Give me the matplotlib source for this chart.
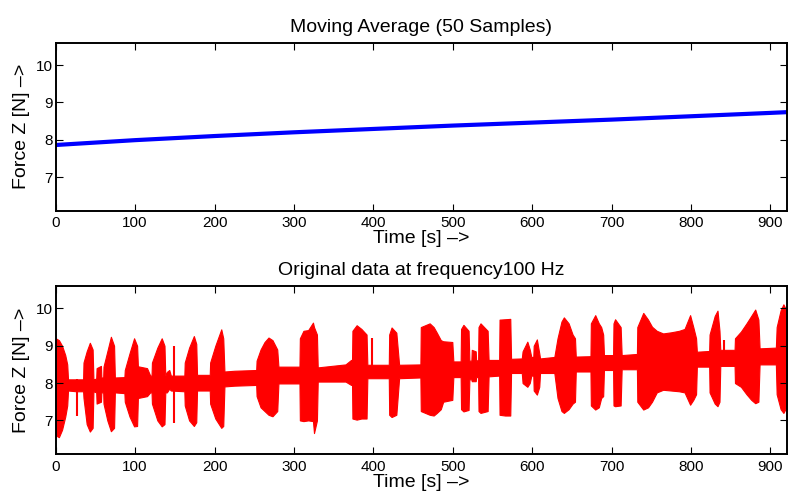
import numpy as np
from matplotlib import pyplot as plt

plt.rcParams['font.family'] = ['Liberation Sans', 'DejaVu Sans']

# moving average (50 samples)
avg_time = [0, 100, 200, 300, 400, 500, 600, 700, 800, 900, 921]
avg_force = [7.86, 7.99, 8.10, 8.20, 8.29, 8.38, 8.46, 8.54, 8.63, 8.72, 8.74]

# envelope of the raw 100 Hz signal (time, upper, lower)
raw_time = [0, 4, 8, 12, 14.5, 15.5, 26,
            34.5, 35, 39, 43, 46.5, 47.5, 51, 51.5, 57, 57.5,
            59.8, 60.2, 65, 69.5, 73.5, 74.5, 86.5,
            87, 93, 98.7, 102.5, 103.5, 115, 119,
            120.7, 121.2, 128, 133.5, 137, 138, 140, 143, 145,
            162, 162.5, 168, 174, 177, 178,
            194, 194.5, 201, 208.5, 211, 212.5, 225, 252.5,
            253, 258, 263, 268, 273, 279, 280.5,
            307, 307.5, 312, 318, 324, 325.3, 329, 330, 365, 372,
            373.2, 373.7, 379, 385, 391.5, 392.5,
            419.5, 420, 423, 429, 432.5,
            459.3, 459.8, 471, 476, 480, 485, 488, 499.5, 500.8,
            510, 510.5, 513.5, 520, 521, 523.5, 524, 529, 529.5,
            532, 532.5, 535, 544, 545.2,
            558.5, 559, 566, 572.5, 573.5,
            587, 588, 594, 597, 599, 601.5, 602, 606, 609, 610,
            628, 632, 637, 640, 646, 651, 654, 655,
            673.5, 674, 679.5, 684, 687, 689.5, 690.5,
            702, 702.5, 704.5, 711.5, 712.8,
            732, 732.5, 740, 746, 751, 757, 765, 775, 785, 792, 799, 803,
            806.5, 807.5,
            823, 823.5, 830, 833.5, 836, 837,
            855, 855.5, 863, 870, 876, 881, 885, 886.5,
            907, 908, 913, 916.5, 919, 923]
raw_high = [9.2, 9.15, 9.0, 8.75, 8.5, 8.1, 8.1,
            8.1, 8.55, 8.85, 9.08, 8.9, 8.1, 8.12, 8.4, 8.46, 8.15,
            8.15, 8.44, 8.85, 9.24, 9.0, 8.15, 8.16,
            8.35, 8.8, 9.2, 9.0, 8.45, 8.4, 8.2,
            8.2, 8.55, 8.95, 9.2, 9.0, 8.2, 8.3, 8.35, 8.2,
            8.2, 8.55, 8.95, 9.26, 9.05, 8.22,
            8.22, 8.55, 9.0, 9.44, 9.2, 8.31, 8.33, 8.35,
            8.6, 8.9, 9.1, 9.22, 9.15, 8.9, 8.44,
            8.44, 9.2, 9.4, 9.42, 9.62, 9.5, 9.3, 8.42, 8.5, 8.62,
            8.62, 9.4, 9.55, 9.45, 9.3, 8.49,
            8.49, 9.3, 9.49, 9.35, 8.49,
            8.5, 9.5, 9.6, 9.5, 9.35, 9.15, 9.12, 9.1, 8.58,
            8.58, 9.45, 9.56, 9.4, 8.6, 8.6, 8.89, 8.85, 8.6,
            8.62, 9.5, 9.6, 9.4, 8.62,
            8.62, 9.7, 9.71, 9.72, 8.65,
            8.66, 8.85, 9.11, 8.9, 8.7, 8.7, 9.0, 9.17, 8.8, 8.66,
            8.7, 9.2, 9.65, 9.76, 9.6, 9.3, 9.2, 8.71,
            8.72, 9.6, 9.82, 9.6, 9.5, 9.3, 8.75,
            8.75, 9.6, 9.71, 9.5, 8.75,
            8.78, 9.5, 9.88, 9.7, 9.51, 9.4, 9.33, 9.36, 9.4, 9.45, 9.82, 9.5,
            9.2, 8.84,
            8.86, 9.3, 9.8, 9.94, 9.4, 8.89,
            8.89, 9.2, 9.38, 9.6, 9.8, 9.97, 9.7, 8.93,
            8.95, 9.5, 9.95, 10.11, 10.0, 9.95]
raw_low = [6.6, 6.55, 6.75, 7.1, 7.4, 7.8, 7.78,
           7.78, 7.6, 6.9, 6.7, 6.8, 7.78, 7.75, 7.45, 7.5, 7.75,
           7.75, 7.45, 7.0, 6.71, 6.8, 7.75, 7.73,
           7.5, 7.1, 6.84, 6.85, 7.6, 7.65, 7.75,
           7.75, 7.45, 7.0, 6.84, 6.9, 7.75, 7.75, 7.85, 7.8,
           7.78, 7.4, 7.0, 6.85, 6.95, 7.8,
           7.8, 7.45, 7.05, 6.8, 6.85, 7.91, 7.93, 7.95,
           7.65, 7.35, 7.25, 7.15, 7.11, 7.25, 7.99,
           7.99, 7.0, 6.98, 7.0, 6.98, 6.66, 7.0, 8.04, 8.04, 7.95,
           7.95, 7.05, 7.02, 7.05, 7.05, 8.13,
           8.13, 7.15, 7.09, 7.15, 8.13,
           8.15, 7.25, 7.15, 7.13, 7.2, 7.3, 7.5, 7.55, 8.16,
           8.16, 7.3, 7.24, 7.28, 8.1, 8.1, 8.05, 8.05, 8.16,
           8.16, 7.25, 7.2, 7.25, 8.18,
           8.2, 7.15, 7.13, 7.13, 8.27,
           8.27, 8.0, 7.9, 8.0, 8.2, 8.2, 7.8, 7.69, 7.9, 8.27,
           8.27, 7.6, 7.25, 7.2, 7.3, 7.45, 7.5, 8.31,
           8.31, 7.4, 7.29, 7.35, 7.6, 7.65, 8.35,
           8.35, 7.4, 7.38, 7.4, 8.37,
           8.37, 7.5, 7.29, 7.35, 7.5, 7.75, 7.82, 7.8, 7.78, 7.75, 7.42, 7.55,
           7.7, 8.44,
           8.44, 7.75, 7.45, 7.38, 7.5, 8.46,
           8.46, 8.0, 7.9, 7.7, 7.55, 7.46, 7.5, 8.5,
           8.5, 7.7, 7.3, 7.2, 7.3, 7.7]

# isolated single-sample spikes
spike_time = [27, 149.4, 398, 841.7]
spike_high = [8.1, 8.99, 9.2, 9.15]
spike_low = [7.13, 6.93, 8.13, 8.46]

arrow = '\u2013>'


def style_axes(ax):
    ax.set_xlim(0, 921)
    ax.set_ylim(6.1, 10.6)
    ax.set_xticks(np.arange(0, 901, 100))
    ax.set_yticks([7, 8, 9, 10])
    ax.tick_params(direction='in', top=True, right=True, length=5,
                   width=0.8, labelsize=11)
    ax.tick_params(axis='y', pad=2)
    ax.tick_params(axis='x', pad=4)
    for sp in ax.spines.values():
        sp.set_linewidth(1.4)
    ax.set_xlabel('Time [s] ' + arrow, fontsize=14, labelpad=0)
    ax.set_ylabel('Force Z [N] ' + arrow, fontsize=14, labelpad=4)


fig = plt.figure(figsize=(7.88, 4.94), dpi=100)
ax1 = fig.add_axes([0.0707, 0.5735, 0.928, 0.340])
ax2 = fig.add_axes([0.0707, 0.081, 0.928, 0.340])

ax1.plot(avg_time, avg_force, color='blue', linewidth=3.0)
ax1.set_title('Moving Average (50 Samples)', fontsize=14, pad=8)
style_axes(ax1)

ax2.fill_between(raw_time, raw_low, raw_high, color='red', linewidth=0.8,
                 edgecolor='red')
ax2.vlines(spike_time, spike_low, spike_high, color='red', linewidth=1.5)
ax2.set_title('Original data at frequency100 Hz', fontsize=14, pad=8)
style_axes(ax2)

fig.savefig('out.png', dpi=100)
